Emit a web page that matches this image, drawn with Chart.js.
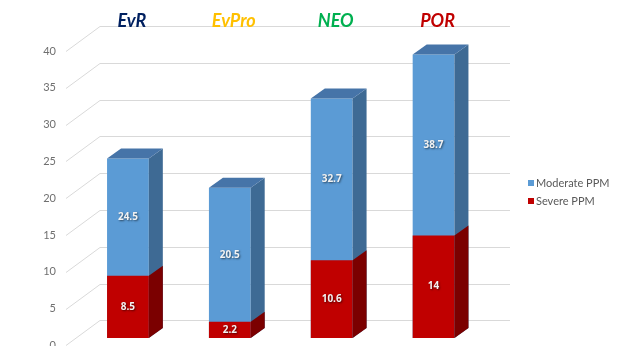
<!DOCTYPE html>
<html><head><meta charset="utf-8">
<script src="https://cdn.jsdelivr.net/npm/chart.js@4.4.1/dist/chart.umd.min.js"></script>
<style>html,body{margin:0;padding:0;background:#fff;}#wrap{width:640px;height:346px;position:relative;overflow:hidden;}#c{width:640px;height:374px;display:block;}</style>
</head><body><div id="wrap"><canvas id="c" width="640" height="374"></canvas></div>
<script>
const categories = ['EvR', 'EvPro', 'NEO', 'POR'];
const categoryColors = ['#002060', '#FFC000', '#00B050', '#C00000'];
const moderatePPM = [24.5, 20.5, 32.7, 38.7];
const severePPM = [8.5, 2.2, 10.6, 14];
const yTicks = [0, 5, 10, 15, 20, 25, 30, 35, 40];

const DX = 14, DY = -10;

const backWall = {
  id: 'backWall',
  beforeDraw(chart) {
    const ctx = chart.ctx, yl = chart.scales.yl;
    ctx.save();
    ctx.strokeStyle = '#D9D9D9';
    ctx.lineWidth = 1;
    yTicks.forEach(v => {
      const fy = Math.round(yl.getPixelForValue(v)) + 0.5;
      ctx.beginPath();
      ctx.moveTo(66, fy);
      ctx.lineTo(100, fy - 25);
      ctx.lineTo(510, fy - 25);
      ctx.stroke();
    });
    ctx.restore();
  }
};

const bars3d = {
  id: 'bars3d',
  afterDatasetDraw(chart, args) {
    const ctx = chart.ctx;
    const ds = chart.data.datasets[args.index];
    ctx.save();
    args.meta.data.forEach((bar, i) => {
      const p = bar.getProps(['x', 'y', 'base', 'width'], true);
      const l = p.x - p.width / 2, r = p.x + p.width / 2;
      ctx.fillStyle = ds.sideColor;
      ctx.beginPath();
      ctx.moveTo(r, p.y); ctx.lineTo(r + DX, p.y + DY);
      ctx.lineTo(r + DX, p.base + DY); ctx.lineTo(r, p.base);
      ctx.closePath(); ctx.fill();
      const vals = chart.data.datasets.map(d => d.data[i]);
      if (ds.data[i] === Math.max(...vals)) {
        ctx.fillStyle = ds.topColor;
        ctx.beginPath();
        ctx.moveTo(l, p.y); ctx.lineTo(l + DX, p.y + DY);
        ctx.lineTo(r + DX, p.y + DY); ctx.lineTo(r, p.y);
        ctx.closePath(); ctx.fill();
      }
    });
    ctx.restore();
  }
};

const valueLabels = {
  id: 'valueLabels',
  afterDatasetsDraw(chart) {
    const ctx = chart.ctx;
    ctx.save();
    ctx.font = 'bold 10px "Open Sans", sans-serif';
    ctx.textAlign = 'center';
    ctx.textBaseline = 'middle';
    ctx.fillStyle = '#F2F2F2';
    ctx.shadowColor = 'rgba(0,0,0,0.55)';
    ctx.shadowBlur = 2;
    ctx.shadowOffsetX = 1;
    ctx.shadowOffsetY = 1;
    categories.forEach((c, i) => {
      const items = chart.data.datasets.map((d, di) => {
        const el = chart.getDatasetMeta(di).data[i];
        const p = el.getProps(['x', 'y', 'base'], true);
        return { v: d.data[i], x: p.x, y: p.y, base: p.base };
      }).sort((a, b) => a.v - b.v);
      items.forEach((it, k) => {
        const lower = k === 0 ? it.base : items[k - 1].y;
        ctx.fillText(String(it.v), it.x, (it.y + lower) / 2);
      });
    });
    ctx.restore();
  }
};

const legend3d = {
  id: 'legend3d',
  afterDraw(chart) {
    const ctx = chart.ctx;
    const order = [1, 0];
    ctx.save();
    ctx.font = '11px Lato, sans-serif';
    ctx.textBaseline = 'middle';
    ctx.textAlign = 'left';
    order.forEach((di, k) => {
      const d = chart.data.datasets[di];
      const cy = 183 + k * 18;
      ctx.fillStyle = d.backgroundColor;
      ctx.fillRect(528, cy - 3, 6, 6);
      ctx.fillStyle = '#595959';
      ctx.fillText(d.label, 536, cy);
    });
    ctx.restore();
  }
};

new Chart(document.getElementById('c'), {
  type: 'bar',
  data: {
    labels: categories,
    datasets: [
      { label: 'Severe PPM', data: severePPM, backgroundColor: '#C00000', sideColor: '#7B0000', topColor: '#8E0000',
        grouped: false, barPercentage: 0.41, categoryPercentage: 1, yAxisID: 'y' },
      { label: 'Moderate PPM', data: moderatePPM, backgroundColor: '#5B9BD5', sideColor: '#3E6A94', topColor: '#4674A8',
        grouped: false, barPercentage: 0.41, categoryPercentage: 1, yAxisID: 'y' }
    ]
  },
  options: {
    responsive: false,
    maintainAspectRatio: false,
    animation: false,
    layout: { padding: { left: 0, right: 155.5, top: 0, bottom: 0 } },
    plugins: { legend: { display: false }, tooltip: { enabled: false } },
    scales: {
      x: {
        position: 'top',
        grid: { display: false, drawTicks: false },
        border: { display: false },
        ticks: {
          padding: 13,
          labelOffset: 4,
          font: { family: 'Lato', size: 18, weight: 'bold', style: 'italic' },
          color: ctx => categoryColors[ctx.index]
        },
        afterFit: s => { s.height = 45; }
      },
      y: {
        display: false,
        min: -1.16,
        max: 40
      },
      yl: {
        position: 'left',
        min: -0.136,
        max: 40.82,
        grid: { display: false, drawTicks: false },
        border: { display: false },
        afterBuildTicks: s => { s.ticks = yTicks.map(v => ({ value: v })); },
        ticks: {
          padding: 21,
          font: { family: 'Lato', size: 11 },
          color: '#6F6F6F'
        },
        afterFit: s => { s.width = 77; }
      }
    }
  },
  plugins: [backWall, bars3d, valueLabels, legend3d]
});
</script>
</body></html>
